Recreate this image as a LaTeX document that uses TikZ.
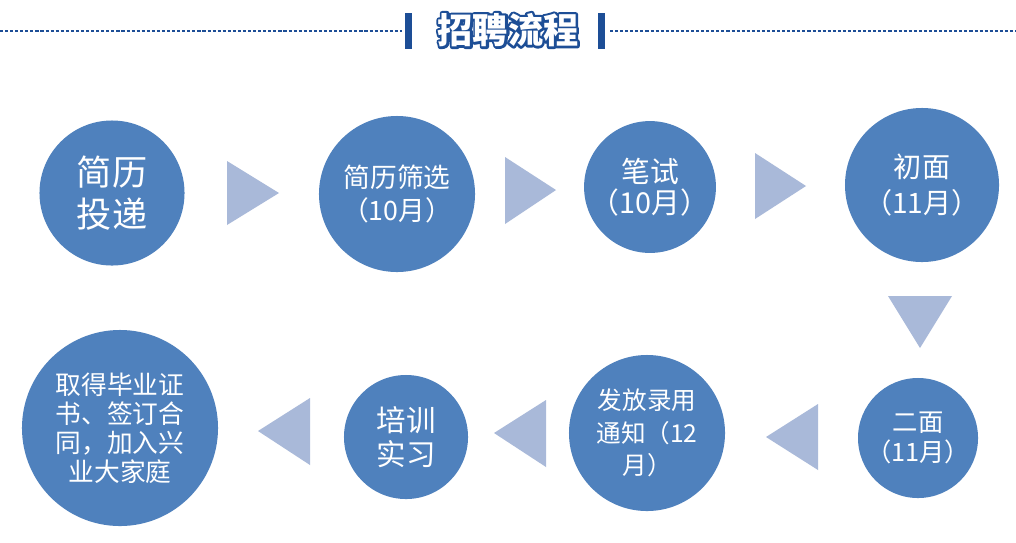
\documentclass[tikz,border=0pt]{standalone}
\usepackage{fontspec}
\newfontfamily\cjk{Noto Sans CJK SC}
\definecolor{stageblue}{HTML}{4F81BD}
\definecolor{arrowblue}{HTML}{A9B9D9}
\definecolor{titleblue}{HTML}{1D4E96}
\tikzset{
  stage/.style={circle, fill=stageblue, text=white, inner sep=0pt, align=center},
  pointer/.style={fill=arrowblue},
  titletext/.style={font=\cjk\bfseries\fontsize{25}{30}\selectfont, inner sep=0pt}
}
% outlined title text: stroked copy in blue under the white one
\newcommand\outlined[1]{\rlap{\special{pdf:literal direct q 1 Tr 1 j 3.4 w 0.114 0.306 0.588 RG}#1\special{pdf:literal direct Q}}#1}

\begin{document}
\begin{tikzpicture}[x=0.025cm, y=0.025cm]
\useasboundingbox[fill=white] (0,0) rectangle (1016,-542);

% title bar
\draw[titleblue, line width=1.4pt, dash pattern=on 2.2pt off 1.4pt] (0,-31) -- (402,-31);
\draw[titleblue, line width=1.4pt, dash pattern=on 2.2pt off 1.4pt] (610,-31) -- (1016,-31);
\fill[titleblue] (405,-13) rectangle (412,-49);
\fill[titleblue] (598,-13) rectangle (605,-49);
\node[titletext, text=white] (title) at (508,-30) {\outlined{招聘流程}};

% first row
\node[stage, minimum size=3.625cm, font=\cjk\fontsize{25}{30}\selectfont] (resume) at (112,-193) {简历\\投递};
\node[stage, minimum size=3.9cm, font=\cjk\fontsize{19}{24}\selectfont] (screen) at (397,-194) {简历筛选\\（10月）};
\node[stage, minimum size=3.25cm, font=\cjk\fontsize{20.5}{22}\selectfont] (written) at (650,-187) {笔试\\（10月）};
\node[stage, minimum size=3.85cm, font=\cjk\fontsize{20}{25}\selectfont] (first) at (922,-185) {初面\\（11月）};

% second row
\node[stage, minimum size=3.0cm, font=\cjk\fontsize{18}{21}\selectfont] (second) at (918,-438) {二面\\（11月）};
\node[stage, minimum size=3.9cm, font=\cjk\fontsize{17.5}{23}\selectfont] (offer) at (647,-433) {发放录用\\通知（12\\月）};
\node[stage, minimum size=3.1cm, font=\cjk\fontsize{21}{24}\selectfont] (training) at (406,-437) {培训\\实习};
\node[stage, minimum size=4.9cm, font=\cjk\fontsize{18.3}{20.6}\selectfont] (join) at (120,-428) {取得毕业证\\书、签订合\\同，加入兴\\业大家庭};

% pointers
\fill[pointer] (227,-161) -- (279,-193) -- (227,-225) -- cycle;
\fill[pointer] (505,-157) -- (556,-190) -- (505,-224) -- cycle;
\fill[pointer] (755,-153) -- (806,-186) -- (755,-219) -- cycle;
\fill[pointer] (888,-296) -- (952,-296) -- (920,-348) -- cycle;
\fill[pointer] (818,-404) -- (766,-437) -- (818,-470) -- cycle;
\fill[pointer] (546,-400) -- (494,-433) -- (546,-467) -- cycle;
\fill[pointer] (310,-398) -- (258,-431) -- (310,-465) -- cycle;
\end{tikzpicture}
\end{document}
